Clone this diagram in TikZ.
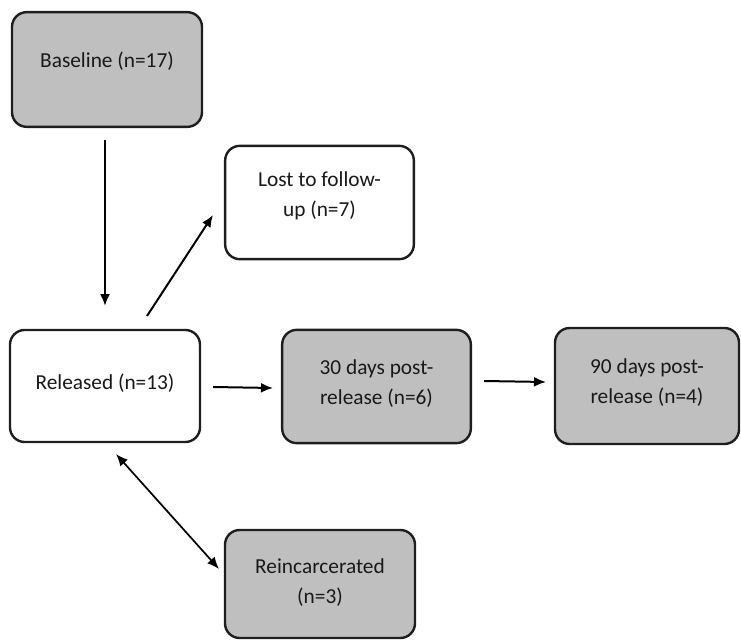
\documentclass[tikz,border=0pt]{standalone}
\usepackage{fontspec}
\setmainfont{Carlito}
\usetikzlibrary{arrows.meta}
\definecolor{boxgray}{RGB}{191,191,191}
\definecolor{edge}{RGB}{30,30,30}
\tikzset{
  box/.style={draw=edge, line width=1.8pt, rounded corners=11pt, align=center,
    inner sep=0pt, font=\fontsize{16}{22.5}\selectfont, text=black!90},
  grey/.style={box, fill=boxgray},
  white/.style={box, fill=white},
  liftby/.style={text depth=#1},
  arr/.style={draw=black, line width=1.5pt, -{Latex[length=9pt,width=7.5pt]}},
  darr/.style={draw=black, line width=1.3pt, {Latex[length=9pt,width=7.5pt]}-{Latex[length=9pt,width=7.5pt]}}
}
\begin{document}
\begin{tikzpicture}[x=0.75pt,y=-0.75pt]
\useasboundingbox (0,0) rectangle (741,641);
\node[grey, liftby=14pt, minimum width=142.5pt, minimum height=86pt] (base) at (107,69.5) {Baseline (n=17)};
\node[white, liftby=12pt, minimum width=141.5pt, minimum height=85pt] (lost) at (319.5,202.5) {Lost to follow-\\up (n=7)};
\node[white, liftby=7pt, minimum width=142.5pt, minimum height=84pt] (rel) at (105,386) {Released (n=13)};
\node[grey, liftby=6pt, minimum width=141.5pt, minimum height=85pt] (d30) at (376.5,386.5) {30 days post-\\release (n=6)};
\node[grey, liftby=7pt, minimum width=138pt, minimum height=87pt] (d90) at (647,386) {90 days post-\\release (n=4)};
\node[grey, liftby=5pt, minimum width=142.5pt, minimum height=81pt] (reinc) at (320,584) {Reincarcerated\\(n=3)};
% arrow end points
\coordinate (a1s) at (105,140); \coordinate (a1e) at (105,306);
\coordinate (a2s) at (147,316); \coordinate (a2e) at (213,215);
\coordinate (a3s) at (213,387); \coordinate (a3e) at (273,388);
\coordinate (a4s) at (484,381); \coordinate (a4e) at (546,382);
\coordinate (a5s) at (116,454); \coordinate (a5e) at (219,569);
\draw[arr] (a1s) -- (a1e);
\draw[arr] (a2s) -- (a2e);
\draw[arr] (a3s) -- (a3e);
\draw[arr] (a4s) -- (a4e);
\draw[darr] (a5s) -- (a5e);
\end{tikzpicture}
\end{document}
